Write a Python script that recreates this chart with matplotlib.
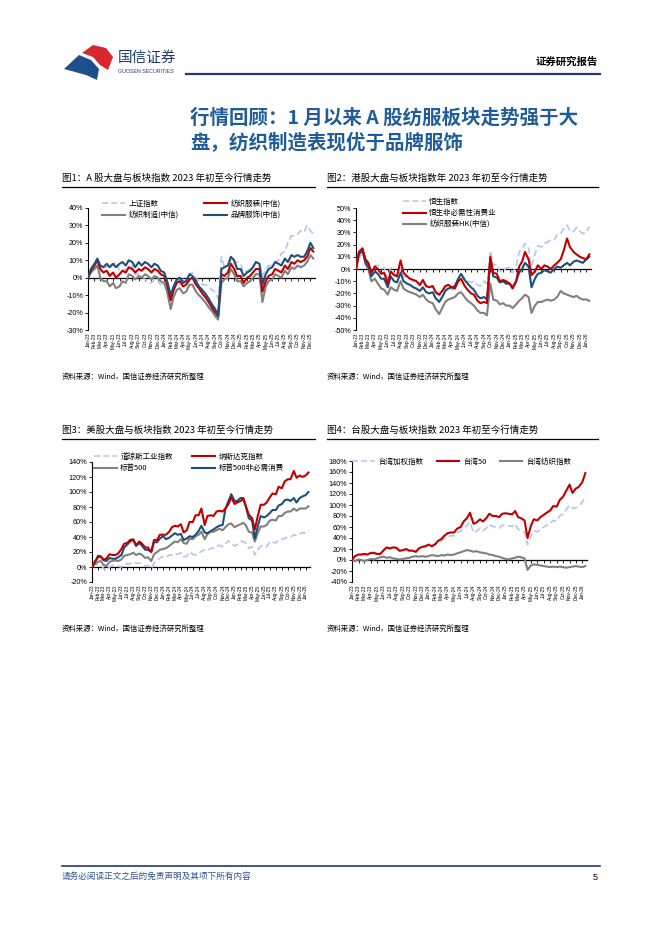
import numpy as np
import pandas as pd
import matplotlib
matplotlib.use('Agg')
import matplotlib.pyplot as plt
from matplotlib.patches import Polygon
from matplotlib.lines import Line2D

plt.rcParams['font.family'] = ['Noto Sans CJK SC', 'DejaVu Sans']
plt.rcParams['axes.unicode_minus'] = False

# ---- data: % change since start of 2023, sampled on the 1st and 15th of each month ----
# fig 1: A-share
sse = ([0, 3, 5, 6, 7, 6, 6, 8, 7, 9, 4, 4, 5, 4, 7, 2, 2, 1, -1, -2, -3, -1, -2, -4] +
       [-3, -6, -12, -8, -2, -1, -1, -2, 2, 3, 0, -2, -4, -4, -5, -7, -8, -12, 12, 6, 7, 10, 8, 9] +
       [8, 3, 4, 5, 7, 9, 8, 1, 5, 7, 7, 9, 10, 14, 15, 20, 24, 24, 25, 27, 26, 30, 27, 25])
tex_app = ([0, 4, 7, 10, 5, 3, 4, 1, 3, 0, 2, 4, 3, 6, 5, 3, 5, 4, 6, 5, 3, 5, 4, 2] +
           [1, -4, -13, -7, -3, -2, -5, -4, -1, 0, -4, -6, -9, -11, -14, -17, -20, -22, 2, 1, 3, 8, 5, 1] +
           [1, -3, 0, 1, 3, 5, 5, -8, -2, 1, 2, 5, 4, 3, 7, 5, 9, 8, 10, 9, 10, 12, 17, 15])
tex_mfg = ([0, 3, 5, 7, 0, -2, -2, -5, -3, -6, -5, -2, -3, 2, 1, -1, 1, 0, 2, 1, -1, 1, 0, -2] +
           [-3, -8, -18, -11, -7, -6, -9, -8, -4, -4, -8, -10, -12, -14, -17, -19, -22, -24, -3, -1, 0, 5, 2, -2] +
           [-2, -5, -3, -2, 0, 2, 2, -14, -5, -2, -1, 2, 1, 0, 4, 2, 6, 5, 7, 6, 7, 9, 13, 11])
brand = ([0, 5, 8, 11, 7, 6, 8, 6, 8, 6, 8, 9, 7, 10, 9, 6, 9, 7, 9, 8, 6, 8, 7, 4] +
         [3, -2, -10, -5, -1, 0, -3, -2, 2, 1, -2, -5, -7, -9, -12, -15, -18, -22, 5, 6, 7, 12, 10, 5] +
         [5, 1, 3, 4, 6, 9, 8, -4, 2, 5, 6, 9, 8, 7, 11, 9, 13, 12, 13, 12, 12, 15, 20, 17])

# fig 2: Hong Kong
hsi = ([0, 10, 12, 5, 4, -1, 3, 3, 0, 1, -8, 1, -4, -5, 1, -6, -7, -8, -10, -10, -14, -10, -15, -15] +
       [-14, -20, -22, -20, -16, -16, -17, -16, -10, -4, -8, -10, -11, -10, -13, -14, -10, -12, 15, 3, 4, -2, -2, 1] +
       [1, -3, 2, 14, 16, 21, 17, 2, 12, 19, 18, 21, 22, 24, 24, 28, 29, 33, 36, 31, 31, 34, 31, 29] +
       [30, 35])
hs_cons = ([0, 14, 17, 8, 5, -3, 2, 0, -4, -3, -12, -2, -5, -6, 7, -3, -6, -8, -9, -10, -13, -9, -14, -15] +
           [-14, -19, -21, -18, -14, -13, -15, -16, -10, -8, -14, -17, -20, -21, -26, -28, -27, -28, 10, -3, -4, -10, -9, -10] +
           [-12, -16, -10, 2, 6, 14, 8, -5, -2, 3, 0, 3, 2, 0, 3, 5, 8, 15, 25, 18, 14, 12, 10, 9] +
           [8, 12])
hk_blue = ([0, 12, 15, 6, 2, -6, -2, -4, -8, -8, -15, -6, -10, -11, -3, -10, -12, -13, -15, -16, -18, -15, -19, -20] +
           [-19, -24, -27, -23, -18, -16, -15, -14, -8, -4, -9, -12, -15, -17, -22, -24, -23, -25, 6, -6, -7, -11, -10, -12] +
           [-12, -15, -10, -3, 0, 5, 2, -15, -8, -4, -3, -1, -2, -3, 0, 2, 1, 3, 5, 3, 6, 7, 6, 5] +
           [8, 10])
hk_tex = ([0, 14, 16, 4, 0, -10, -8, -12, -16, -17, -21, -15, -17, -18, -10, -16, -18, -19, -20, -21, -23, -21, -25, -27] +
          [-28, -33, -37, -32, -27, -25, -24, -23, -20, -19, -23, -26, -28, -30, -34, -36, -36, -38, -12, -25, -26, -29, -28, -30] +
          [-30, -32, -29, -26, -24, -21, -23, -36, -30, -27, -27, -26, -25, -26, -25, -23, -18, -20, -21, -22, -23, -22, -24, -25] +
          [-25, -26])

# fig 3: US
dji = ([0, 3, 3, 3, -2, -4, 0, 2, 3, 1, 0, 4, 4, 4, 7, 5, 5, 4, 1, 2, -2, 5, 9, 12] +
       [14, 13, 16, 16, 18, 17, 19, 14, 14, 20, 17, 16, 18, 21, 23, 22, 25, 25, 28, 29, 27, 31, 35, 32] +
       [28, 30, 34, 34, 32, 25, 27, 16, 23, 28, 28, 27, 34, 33, 32, 36, 37, 38, 40, 40, 43, 42, 44, 46] +
       [45, 49])
ndx = ([0, 7, 13, 14, 10, 11, 17, 16, 16, 18, 24, 31, 32, 36, 37, 29, 34, 31, 26, 26, 20, 36, 36, 43] +
       [43, 43, 47, 53, 55, 54, 57, 46, 49, 60, 60, 69, 69, 78, 56, 68, 69, 68, 74, 75, 74, 78, 84, 93] +
       [84, 86, 88, 91, 80, 70, 65, 50, 69, 83, 83, 86, 93, 98, 97, 107, 105, 114, 117, 117, 128, 119, 122, 120] +
       [122, 126])
spx = ([0, 4, 7, 8, 3, 1, 7, 8, 9, 8, 10, 15, 16, 17, 19, 16, 18, 16, 12, 13, 8, 17, 20, 23] +
       [24, 25, 28, 31, 34, 33, 37, 32, 31, 38, 37, 41, 43, 47, 37, 44, 47, 47, 49, 51, 49, 53, 57, 58] +
       [53, 55, 57, 59, 55, 47, 46, 34, 46, 54, 54, 56, 62, 63, 62, 68, 68, 72, 74, 74, 78, 75, 78, 78] +
       [78, 81])
spx_cd = ([0, 6, 15, 14, 9, 8, 12, 11, 11, 13, 16, 26, 30, 34, 36, 28, 32, 28, 23, 23, 20, 33, 33, 38] +
          [41, 37, 39, 42, 45, 43, 44, 36, 38, 41, 40, 43, 48, 55, 46, 45, 48, 50, 53, 55, 56, 77, 88, 97] +
          [88, 88, 92, 92, 80, 65, 62, 38, 55, 68, 66, 68, 72, 76, 76, 82, 84, 89, 90, 88, 92, 86, 92, 94] +
          [96, 100])

# fig 4: Taiwan
taiex = ([0, 6, 9, 9, 10, 9, 12, 12, 10, 10, 17, 22, 20, 22, 21, 16, 17, 19, 16, 16, 14, 20, 23, 24] +
         [27, 24, 27, 32, 34, 39, 43, 44, 44, 50, 52, 59, 63, 69, 50, 52, 58, 53, 58, 65, 61, 60, 58, 63] +
         [63, 62, 61, 66, 56, 54, 51, 28, 43, 53, 51, 56, 60, 63, 66, 72, 71, 80, 84, 91, 99, 94, 95, 98] +
         [105, 116])
tw50 = ([0, 7, 10, 10, 11, 10, 13, 13, 11, 11, 18, 23, 21, 23, 22, 17, 18, 20, 17, 17, 15, 21, 24, 25] +
        [28, 25, 29, 35, 38, 44, 49, 50, 50, 57, 60, 70, 76, 86, 66, 68, 74, 70, 76, 84, 80, 80, 78, 84] +
        [85, 84, 83, 89, 78, 76, 72, 40, 62, 74, 72, 78, 82, 86, 90, 98, 97, 109, 115, 125, 137, 122, 130, 133] +
        [142, 158])
tw_tex = ([0, -2, 1, 0, -2, 0, 2, 1, 3, 5, 6, 4, 5, 3, 2, 1, 2, 3, 4, 6, 7, 6, 7, 6] +
          [7, 9, 8, 7, 9, 8, 10, 9, 10, 12, 14, 16, 18, 17, 15, 16, 14, 13, 12, 10, 9, 7, 6, 4] +
          [2, 1, 3, 4, 6, 5, 3, -18, -10, -8, -9, -10, -11, -12, -13, -12, -13, -12, -13, -14, -13, -12, -11, -12] +
          [-13, -11])

LB, RED, GRY, DB = '#B4C7E7', '#C00000', '#808080', '#1F4E79'
NAVY = '#1F3B6E'
DASH = (0, (4, 2))
LW = 1.5

W, H = 662, 936
fig = plt.figure(figsize=(W / 100, H / 100), dpi=100)

# overlay in pixel coordinates for the page decoration
ov = fig.add_axes([0, 0, 1, 1])
ov.set_xlim(0, W)
ov.set_ylim(H, 0)
ov.axis('off')


def rect(x0, y0, x1, y1):
    return [x0 / W, 1 - y1 / H, (x1 - x0) / W, (y1 - y0) / H]


def panel(box, lines, ylim, step, legend, leg_xy, ncol, colsp):
    ax = fig.add_axes(rect(*box))
    n = max(len(v) for _, v, _, _ in lines)
    dates = pd.date_range('2023-01-01', periods=n, freq='SMS')
    for z, (lab, vals, col, ls) in enumerate(lines):
        ax.plot(dates[:len(vals)], vals, color=col, lw=LW if ls == '-' else 1.2, ls=ls, zorder=2 + z)
    ax.set_xlim(dates[0], dates[-1] + pd.Timedelta(days=8))
    ax.set_ylim(*ylim)
    ax.set_yticks(np.arange(ylim[0], ylim[1] + 1, step))
    ax.set_yticklabels([f'{v}%' for v in range(ylim[0], ylim[1] + 1, step)],
                       family=['Liberation Sans', 'DejaVu Sans'], fontsize=5.2)
    ax.tick_params(axis='y', length=2, width=0.6, pad=1.5)
    months = pd.date_range('2023-01-01', dates[-1], freq='MS')
    ax.set_xticks(months)
    ax.set_xticklabels([m.strftime('%b-%y') for m in months], rotation=90,
                       family=['Liberation Sans', 'DejaVu Sans'], fontsize=3.4)
    ax.tick_params(axis='x', length=0, pad=2)
    for s in ['top', 'right', 'bottom']:
        ax.spines[s].set_visible(False)
    ax.spines['left'].set_linewidth(0.8)
    ax.patch.set_alpha(0)
    # zero line carrying the month ticks
    zero = -ylim[0] / (ylim[1] - ylim[0])
    sec = ax.secondary_xaxis(zero)
    sec.set_alignment('bottom')
    sec.set_xticks(months)
    sec.tick_params(axis='x', direction='out', length=2, width=0.6, labelbottom=False, labeltop=False)
    sec.spines['bottom'].set_linewidth(0.9)
    handles = []
    for lab in legend:
        for l2, _, col, ls in lines:
            if l2 == lab:
                handles.append(Line2D([], [], color=col, lw=LW if ls == '-' else 1.1, ls=ls, label=lab))
    fx, fy = leg_xy
    ax.legend(handles=handles, loc='upper left', bbox_to_anchor=(fx / W, 1 - fy / H),
              bbox_transform=fig.transFigure, ncol=ncol, frameon=False, fontsize=5.4,
              borderpad=0, borderaxespad=0, handlelength=3.0, handletextpad=0.5,
              labelspacing=0.45, columnspacing=colsp)
    return ax


panel((88, 208, 315, 330),
      [('上证指数', sse, LB, DASH), ('纺织制造(中信)', tex_mfg, GRY, '-'),
       ('纺织服装(中信)', tex_app, RED, '-'), ('品牌服饰(中信)', brand, DB, '-')],
      (-30, 40), 10, ['上证指数', '纺织制造(中信)', '纺织服装(中信)', '品牌服饰(中信)'],
      (102, 200), 2, 3.4)

panel((356, 208, 591, 330),
      [('恒生指数', hsi, LB, DASH), ('纺织服装HK(中信)', hk_tex, GRY, '-'),
       ('', hk_blue, DB, '-'), ('恒生非必需性消费业', hs_cons, RED, '-')],
      (-50, 50), 10, ['恒生指数', '恒生非必需性消费业', '纺织服装HK(中信)'],
      (403, 198), 1, 2)

panel((92, 462, 310, 582),
      [('道琼斯工业指数', dji, LB, DASH), ('标普500', spx, GRY, '-'),
       ('标普500非必需消费', spx_cd, DB, '-'), ('纳斯达克指数', ndx, RED, '-')],
      (-20, 140), 20, ['道琼斯工业指数', '标普500', '纳斯达克指数', '标普500非必需消费'],
      (94, 453), 2, 2.6)

panel((352, 461, 587, 582),
      [('台湾加权指数', taiex, LB, DASH), ('台湾纺织指数', tw_tex, GRY, '-'),
       ('台湾50', tw50, RED, '-')],
      (-40, 180), 20, ['台湾加权指数', '台湾50', '台湾纺织指数'],
      (352, 458), 3, 1.8)

# ---- page decoration ----
ov.add_patch(Polygon([(64, 69), (79, 55), (91, 60), (99, 69), (97, 80), (86, 75)],
                     closed=True, color='#1F4E8C', lw=0))
ov.add_patch(Polygon([(82, 53), (93, 45), (106, 48), (113, 57), (108, 70), (100, 65), (93, 57)],
                     closed=True, color='#D7282F', lw=0))
ov.text(118, 58, '国信证券', fontsize=10.5, color=NAVY, va='center')
ov.text(118, 71.5, 'GUOSEN SECURITIES', fontsize=3.8, color=NAVY, va='center',
        family=['Liberation Sans', 'DejaVu Sans'])
ov.plot([186, 600], [74, 74], color=NAVY, lw=1.6)
ov.text(598, 62, '证券研究报告', fontsize=7.5, fontweight='bold', ha='right', va='center')

ov.text(190, 118, '行情回顾：1 月以来 A 股纺服板块走势强于大', fontsize=14, fontweight='bold',
        color='#1F5C99', va='center')
ov.text(190, 143, '盘，纺织制造表现优于品牌服饰', fontsize=14, fontweight='bold',
        color='#1F5C99', va='center')

titles = [(62, 178, 315, '图1：A 股大盘与板块指数 2023 年初至今行情走势'),
          (327, 178, 598, '图2：港股大盘与板块指数年 2023 年初至今行情走势'),
          (62, 430, 315, '图3：美股大盘与板块指数 2023 年初至今行情走势'),
          (327, 430, 598, '图4：台股大盘与板块指数 2023 年初至今行情走势')]
for x, y, x1, t in titles:
    ov.text(x, y, t, fontsize=6.8, va='center')
    ov.plot([x, x1], [y + 9, y + 9], color='black', lw=0.9)

for x, y in [(62, 377), (327, 377), (62, 629), (327, 629)]:
    ov.text(x, y, '资料来源：Wind，国信证券经济研究所整理', fontsize=5.3, va='center')

ov.plot([62, 600], [866, 866], color=NAVY, lw=1.2)
ov.text(62, 876, '请务必阅读正文之后的免责声明及其项下所有内容', fontsize=6.2,
        color='#2F4F8F', va='center', style='italic')
ov.text(598, 877, '5', fontsize=6.5, ha='right', va='center',
        family=['Liberation Sans', 'DejaVu Sans'])

fig.savefig('out.png', dpi=100)
